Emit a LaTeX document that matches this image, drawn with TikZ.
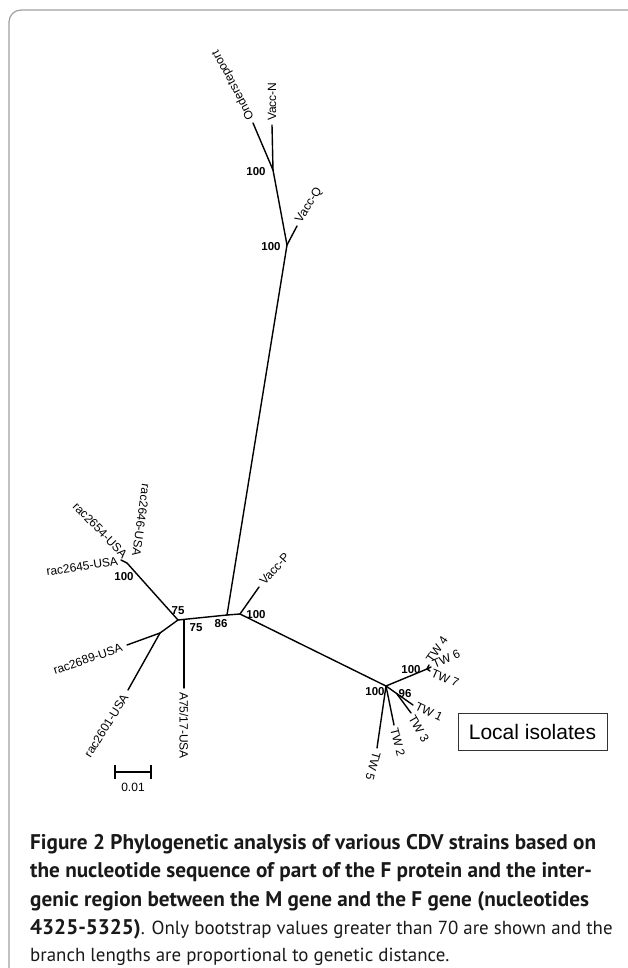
\documentclass[tikz,border=0pt]{standalone}
\usepackage{fontspec}
\setmainfont{Liberation Sans}
\newfontfamily\capfont{PT Sans}
\newcommand{\capbold}[1]{{\fontsize{21.2}{21}\selectfont\bfseries #1}}
\begin{document}
\begin{tikzpicture}[x=1pt,y=-1pt,
  br/.style={line width=1.4pt, line cap=round},
  lab/.style={font=\fontsize{12}{12}\selectfont, inner sep=1pt},
  bs/.style={font=\bfseries\fontsize{11.5}{11.5}\selectfont, inner sep=0pt},
  capline/.style={anchor=base west, inner sep=0pt, text=black!90, font=\capfont\fontsize{18.9}{19}\selectfont},
]
\useasboundingbox (0,0) rectangle (628,968);
\draw[gray!75, line width=1.2pt, rounded corners=12pt] (9,978) -- (9,10) -- (640,10);
% internal nodes
\coordinate (nA) at (273,170);
\coordinate (nB) at (287,245);
\coordinate (nC) at (227,615);
\coordinate (nD) at (240,614);
\coordinate (nE) at (178,620);
\coordinate (nE2) at (184,620);
\coordinate (nF) at (127,563);
\coordinate (nG) at (160,633);
\coordinate (nH) at (386,686);
\coordinate (nI) at (427,669);
\coordinate (nJ) at (397,694);
% tips
\coordinate (tOn) at (253,123);
\coordinate (tVN) at (272,125);
\coordinate (tVQ) at (297,226);
\coordinate (tVP) at (259,587);
\coordinate (tA75) at (184,688);
\coordinate (t2645) at (121,560);
\coordinate (t2689) at (127,645);
\coordinate (t2601) at (128,690);
\coordinate (tTW4) at (429,665);
\coordinate (tTW6) at (431,667);
\coordinate (tTW7) at (430,671);
\coordinate (tTW1) at (413,705);
\coordinate (tTW3) at (411,713);
\coordinate (tTW2) at (394,725);
\coordinate (tTW5) at (377,748);
% branches
\draw[br] (tOn) -- (nA);
\draw[br] (tVN) -- (nA);
\draw[br] (nA) -- (nB);
\draw[br] (nB) -- (tVQ);
\draw[br] (nB) -- (nC);
\draw[br] (nC) -- (nD);
\draw[br] (nD) -- (tVP);
\draw[br] (nC) -- (nE);
\draw[br] (nE2) -- (tA75);
\draw[br] (nE) -- (nF);
\draw[br] (nF) -- (t2645);
\draw[br] (nE) -- (nG);
\draw[br] (nG) -- (t2689);
\draw[br] (nG) -- (t2601);
\draw[br] (nD) -- (nH);
\draw[br] (nH) -- (nI);
\draw[br] (nI) -- (tTW4);
\draw[br] (nI) -- (tTW6);
\draw[br] (nI) -- (tTW7);
\draw[br] (nH) -- (tTW1);
\draw[br] (nJ) -- (tTW3);
\draw[br] (nH) -- (tTW2);
\draw[br] (nH) -- (tTW5);
% leaf labels
\node[lab, anchor=west, rotate=118] (lOn) at (252,120) {Onderstepoort};
\node[lab, anchor=west, rotate=90] (lVN) at (272,122) {Vacc-N};
\node[lab, anchor=west, rotate=58] (lVQ) at (298,223) {Vacc-Q};
\node[lab, anchor=west, rotate=48] (lVP) at (261,584) {Vacc-P};
\node[lab, anchor=east, rotate=8.5] (l2645) at (119,561) {rac2645-USA};
\node[lab, anchor=east, rotate=-46] (l2654) at (126,557) {rac2654-USA};
\node[lab, anchor=east, rotate=-98] (l2646) at (136,557) {rac2646-USA};
\node[lab, anchor=east, rotate=19] (l2689) at (123,647) {rac2689-USA};
\node[lab, anchor=east, rotate=58] (l2601) at (126,694) {rac2601-USA};
\node[lab, anchor=west, rotate=-90] (lA75) at (184,691) {A75/17-USA};
\node[lab, anchor=west, rotate=55] (lTW4) at (428,662) {TW 4};
\node[lab, anchor=west, rotate=23] (lTW6) at (432,665) {TW 6};
\node[lab, anchor=west, rotate=-23] (lTW7) at (431,672) {TW 7};
\node[lab, anchor=west, rotate=-26] (lTW1) at (415,705) {TW 1};
\node[lab, anchor=west, rotate=-60] (lTW3) at (411,715) {TW 3};
\node[lab, anchor=west, rotate=-76] (lTW2) at (394,727) {TW 2};
\node[lab, anchor=west, rotate=-105] (lTW5) at (377,751) {TW 5};
% bootstrap values
\node[bs] (bA) at (256,172) {100};
\node[bs] (bB) at (271,247) {100};
\node[bs] (bC) at (221,624) {86};
\node[bs] (bD) at (256,615) {100};
\node[bs] (bE1) at (178,611) {75};
\node[bs] (bE2) at (196,628) {75};
\node[bs] (bF) at (124,577) {100};
\node[bs] (bH) at (375,692) {100};
\node[bs] (bI) at (411,670) {100};
\node[bs] (bJ) at (405,694) {96};
% box
\node[draw=black!80, line width=1pt, minimum width=149pt, minimum height=37pt,
      font=\fontsize{21}{21}\selectfont, inner sep=0pt] (box) at (532.5,731.5) {Local isolates};
% scale bar
\coordinate (s1) at (115,772);
\coordinate (s2) at (151,772);
\draw[line width=1.2pt] (s1) -- (s2);
\draw[line width=1.2pt] ([yshift=-7pt]s1) -- ([yshift=7pt]s1);
\draw[line width=1.2pt] ([yshift=-7pt]s2) -- ([yshift=7pt]s2);
\node[lab] (sl) at (133,787) {0.01};
% caption
\node[capline] (c1) at (30,849) {\capbold{Figure 2 Phylogenetic analysis of various CDV strains based on}};
\node[capline] (c2) at (30,877.5) {\capbold{the nucleotide sequence of part of the F protein and the inter-}};
\node[capline] (c3) at (30,906) {\capbold{genic region between the M gene and the F gene (nucleotides}};
\node[capline] (c4) at (30,934) {\capbold{4325-5325)}. Only bootstrap values greater than 70 are shown and the};
\node[capline] (c5) at (30,961) {branch lengths are proportional to genetic distance.};
\end{tikzpicture}
\end{document}
